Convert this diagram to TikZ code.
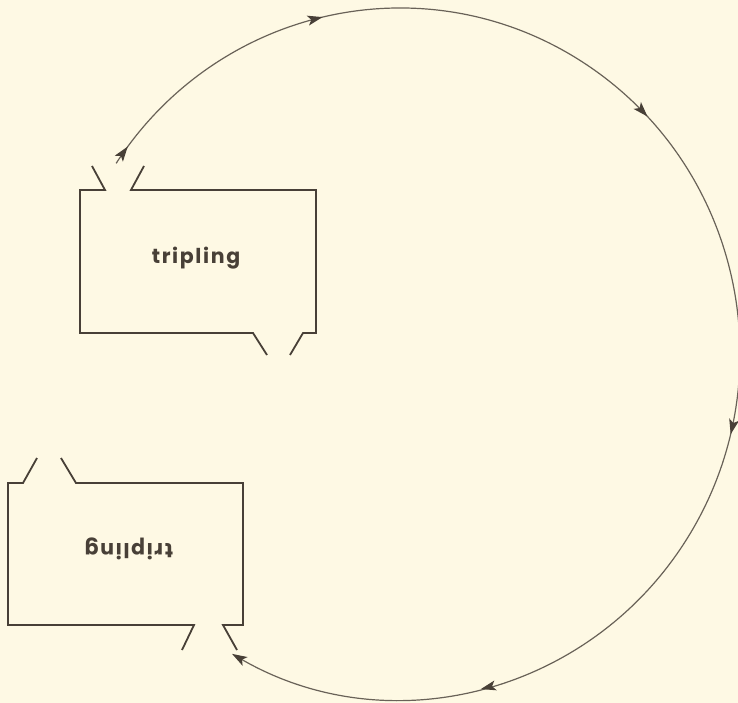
\documentclass[tikz,border=0pt]{standalone}
\usepackage{fontspec}
\setmainfont{Poppins}
\usetikzlibrary{arrows.meta,decorations.markings}
\definecolor{paper}{RGB}{254,249,228}
\definecolor{ink}{RGB}{72,64,55}
\definecolor{loopink}{RGB}{105,98,88}
\tikzset{
  boxline/.style={draw=ink, line width=1.8pt, line join=miter},
  label/.style={text=ink, font=\fontsize{20.5}{24}\bfseries\selectfont\addfontfeatures{LetterSpace=8}, inner sep=0pt},
  looptip/.style={arrows={-{Stealth[length=15pt, width=10pt, inset=3.5pt, ink]}}},
  loop/.style={draw=loopink, line width=1.2pt,
    decoration={markings,
      mark=at position 0.0128 with {\arrow[ink]{Stealth[length=15pt, width=10pt, inset=3.5pt]}},
      mark=at position 0.163 with {\arrow[ink]{Stealth[length=15pt, width=10pt, inset=3.5pt]}},
      mark=at position 0.387 with {\arrow[ink]{Stealth[length=15pt, width=10pt, inset=3.5pt]}},
      mark=at position 0.602 with {\arrow[ink]{Stealth[length=15pt, width=10pt, inset=3.5pt]}},
      mark=at position 0.838 with {\arrow[ink]{Stealth[length=15pt, width=10pt, inset=3.5pt]}}},
    postaction={decorate}}
}
\begin{document}
\begin{tikzpicture}[x=1pt,y=1pt]
  % page
  \fill[paper] (0,0) rectangle (738,-703);
  \useasboundingbox (0,0) rectangle (738,-703);

  % upper box, intake funnel on top, outlet funnel below
  \path[boxline] (92,-166) -- (105,-190) -- (80,-190) -- (80,-333) -- (253,-333) -- (267,-355);
  \path[boxline] (290,-355) -- (303,-333) -- (316,-333) -- (316,-190) -- (131,-190) -- (144,-166);
  \node[label] (upper) at (196,-258) {tripling};

  % lower box, the same box turned half a turn
  \path[boxline] (37,-458) -- (23,-483) -- (8,-483) -- (8,-625) -- (194,-625) -- (182,-650);
  \path[boxline] (237,-650) -- (223,-625) -- (243,-625) -- (243,-483) -- (76,-483) -- (61,-458);
  \node[label, rotate=180] (lower) at (129,-549) {tripling};

  % the loop joining the two boxes
  \coordinate (centre) at (400,-353.5);
  \draw[loop, looptip]
    (centre) ++(146.6:340pt and 345.5pt) coordinate (from)
    arc[start angle=146.6, end angle=-119.6, x radius=340pt, y radius=345.5pt] coordinate (to);
\end{tikzpicture}
\end{document}
